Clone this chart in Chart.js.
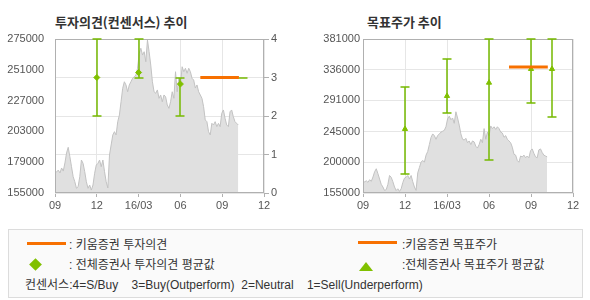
<!DOCTYPE html>
<html>
<head>
<meta charset="utf-8">
<script src="https://cdn.jsdelivr.net/npm/chart.js@4.4.1/dist/chart.umd.min.js"></script>
<style>
  body { margin: 0; background: #fff; width: 590px; height: 300px; position: relative; overflow: hidden;
         font-family: "Liberation Sans", "Noto Sans CJK KR", sans-serif; }
  .title { position: absolute; top: 12px; line-height: 17px; font: bold 13px "Noto Sans CJK KR", sans-serif; color: #333; }
  #c1 { position: absolute; left: 0; top: 0; }
  #c2 { position: absolute; left: 300px; top: 0; }
  .legend { position: absolute; left: 8px; top: 229px; width: 575px; height: 69px; box-sizing: border-box;
            border: 1px solid #dcdcdc; background: #fafafa; font-size: 12px; color: #333; }
  .legend div { position: absolute; }
  .txt { line-height: 14px; white-space: pre; font-family: "Liberation Sans", "Noto Sans CJK KR", sans-serif; }
  .oline { height: 3px; width: 39px; background: #f77000; }
  .dia { width: 9px; height: 9px; background: #80c000; transform: rotate(45deg); }
  .tri { width: 0; height: 0; border-left: 7px solid transparent; border-right: 7px solid transparent; border-bottom: 9px solid #80c000; }
</style>
</head>
<body>
<div class="title" style="left:55px">투자의견(컨센서스) 추이</div>
<div class="title" style="left:367px">목표주가 추이</div>
<canvas id="c1" width="300" height="215"></canvas>
<canvas id="c2" width="290" height="215"></canvas>
<div class="legend">
  <div class="oline" style="left:18px;top:12px"></div>
  <div class="txt" style="left:60px;top:8px">: 키움증권 투자의견</div>
  <div class="dia" style="left:22px;top:30px"></div>
  <div class="txt" style="left:60px;top:28px">: 전체증권사 투자의견 평균값</div>
  <div class="txt" style="left:16px;top:48px">컨센서스:4=S/Buy    3=Buy(Outperform)  2=Neutral    1=Sell(Underperform)</div>
  <div class="oline" style="left:349px;top:11px"></div>
  <div class="txt" style="left:393px;top:8px">:키움증권 목표주가</div>
  <div class="tri" style="left:350px;top:32px"></div>
  <div class="txt" style="left:393px;top:28px">:전체증권사 목표주가 평균값</div>
</div>
<script>
// x axis is in months from 2015-09
const xTickValues = [0, 3, 6, 9, 12, 15];
const xTickLabels = ['09', '12', '16/03', '06', '09', '12'];

// daily-ish closing price, sampled evenly from 2015-09
const priceStart = 0;
const priceStep = 0.1185;
const prices = [
  171600, 171400, 172900, 170600, 174500, 172100, 178400, 186200, 190600, 183300,
  175500, 167700, 163800, 158700, 159900, 167700, 180700, 178100, 171600, 163800,
  158700, 161200, 157300, 161200, 170400, 176800, 178100, 180700, 175500, 180700,
  171600, 163800, 158900, 184600, 192400, 200200, 202800, 200200, 210600, 215800,
  226100, 236600, 241700, 239200, 233900, 239200, 241700, 244400, 245600, 246900,
  252200, 263900, 267800, 262500, 265100, 257300, 274200, 265100, 254700, 241700,
  233900, 232700, 235300, 228800, 231400, 226100, 231400, 230000, 223600, 221000,
  226100, 233900, 228800, 249500, 233900, 244400, 239200, 253400, 249500, 252200,
  248300, 252200, 249500, 244400, 243000, 236800, 239200, 233900, 231400, 228800,
  222200, 211900, 210600, 202800, 200200, 209300, 208000, 210600, 206700, 209300,
  206700, 217100, 219700, 213200, 208000, 206700, 218300, 219700, 214500, 210600,
  209300, 208000
];

// left panel: consensus opinion (right axis 0-4)
const leftYTicks = [155000, 179000, 203000, 227000, 251000, 275000];
const opinionTicks = [0, 1, 2, 3, 4];
const opinionX = [3, 6, 9, 13.5];
const opinionLow = [2, 3, 2, 3];
const opinionHigh = [4, 4, 3, 3];
const opinionAvg = [3, 3.13, 2.83, null];
const kiwoomOpinion = 3;

// right panel: target price
const rightYTicks = [155000, 200000, 245000, 291000, 336000, 381000];
const targetX = [3, 6, 9, 12, 13.5];
const targetLow = [182400, 272000, 203000, 286600, 266100];
const targetHigh = [311000, 351200, 381000, 381000, 381000];
const targetAvg = [248900, 297400, 316900, 337000, 337000];
const kiwoomTarget = 340000;

const kiwoomFrom = 10.43, kiwoomTo = 13.2;

const priceXY = prices.map((p, i) => ({ x: priceStart + i * priceStep, y: p }));
const toXY = (xs, ys) => xs.map((x, i) => ({ x: x, y: ys[i] })).filter(d => d.y !== null);

const tickFont = { family: 'Liberation Sans', size: 11 };
const green = '#76b900';
const orange = '#f77000';
const plain = v => String(v);

// error bars, frame and front datasets drawn above the grid
const overlay = {
  id: 'overlay',
  beforeDatasetDraw(chart, args) {
    if (chart.data.datasets[args.index].front) return false;
  },
  afterDraw(chart, args, opts) {
    const { ctx, chartArea: a } = chart;
    const xs = chart.scales.x, ys = chart.scales[opts.axis];
    ctx.save();
    ctx.strokeStyle = '#b0b0b0';
    ctx.lineWidth = 1;
    ctx.strokeRect(a.left + 0.5, a.top + 0.5, a.width - 1, a.height - 1);

    ctx.strokeStyle = green;
    ctx.lineWidth = 1.5;
    opts.x.forEach((xv, i) => {
      const x = Math.round(xs.getPixelForValue(xv));
      const y1 = Math.round(ys.getPixelForValue(opts.low[i]));
      const y2 = Math.round(ys.getPixelForValue(opts.high[i]));
      ctx.beginPath();
      ctx.moveTo(x, y1); ctx.lineTo(x, y2);
      ctx.moveTo(x - 4.5, y1); ctx.lineTo(x + 4.5, y1);
      ctx.moveTo(x - 4.5, y2); ctx.lineTo(x + 4.5, y2);
      ctx.stroke();
    });

    chart.data.datasets.forEach((ds, i) => {
      if (!ds.front) return;
      const meta = chart.getDatasetMeta(i);
      if (ds.type === 'line') meta.dataset.draw(ctx, a);
      else meta.data.forEach(pt => pt.draw(ctx, a));
    });
    ctx.restore();
  }
};

function xScale() {
  return {
    type: 'linear', min: 0, max: 15,
    afterBuildTicks: s => { s.ticks = xTickValues.map(v => ({ value: v })); },
    ticks: {
      callback: v => xTickLabels[xTickValues.indexOf(v)] ?? '',
      autoSkip: false, maxRotation: 0, font: tickFont, color: '#555', padding: 2
    },
    grid: { color: '#e6e6e6', tickColor: '#b0b0b0', tickLength: 4 },
    border: { display: false },
    afterFit: s => { s.height = 22; }
  };
}

function priceSet() {
  return {
    type: 'line', data: priceXY, yAxisID: 'y',
    borderColor: '#c2c2c2', borderWidth: 1, backgroundColor: '#e0e0e0',
    fill: 'start', pointRadius: 0, tension: 0
  };
}

new Chart(document.getElementById('c1'), {
  data: {
    datasets: [
      priceSet(),
      { type: 'scatter', label: '전체증권사 투자의견 평균값', data: toXY(opinionX, opinionAvg), yAxisID: 'y1',
        pointStyle: 'rectRot', pointRadius: 3, backgroundColor: '#80c000', borderColor: '#80c000', front: true },
      { type: 'line', label: '키움증권 투자의견', yAxisID: 'y1',
        data: [{ x: kiwoomFrom, y: kiwoomOpinion }, { x: kiwoomTo, y: kiwoomOpinion }],
        borderColor: orange, borderWidth: 3, pointRadius: 0, front: true }
    ]
  },
  options: {
    responsive: false, animation: false,
    layout: { padding: { top: 39, right: 0, bottom: 0, left: 0 } },
    plugins: {
      legend: { display: false }, tooltip: { enabled: false },
      overlay: { axis: 'y1', x: opinionX, low: opinionLow, high: opinionHigh }
    },
    scales: {
      x: xScale(),
      y: {
        position: 'left', min: 155000, max: 275000,
        afterBuildTicks: s => { s.ticks = leftYTicks.map(v => ({ value: v })); },
        ticks: { font: tickFont, color: '#555', padding: 3, callback: plain },
        grid: { display: false }, border: { display: false },
        afterFit: s => { s.width = 55; }
      },
      y1: {
        position: 'right', min: 0, max: 4,
        afterBuildTicks: s => { s.ticks = opinionTicks.map(v => ({ value: v })); },
        ticks: { font: tickFont, color: '#555', padding: 2, callback: plain },
        grid: { color: '#e6e6e6', tickColor: '#b0b0b0', tickLength: 5 },
        border: { display: false },
        afterFit: s => { s.width = 36; }
      }
    }
  },
  plugins: [overlay]
});

new Chart(document.getElementById('c2'), {
  data: {
    datasets: [
      priceSet(),
      { type: 'scatter', label: '전체증권사 목표주가 평균값', data: toXY(targetX, targetAvg), yAxisID: 'y',
        pointStyle: 'triangle', pointRadius: 3, backgroundColor: '#80c000', borderColor: '#80c000', front: true },
      { type: 'line', label: '키움증권 목표주가', yAxisID: 'y',
        data: [{ x: kiwoomFrom, y: kiwoomTarget }, { x: kiwoomTo, y: kiwoomTarget }],
        borderColor: orange, borderWidth: 3, pointRadius: 0, front: true }
    ]
  },
  options: {
    responsive: false, animation: false,
    layout: { padding: { top: 39, right: 17, bottom: 0, left: 0 } },
    plugins: {
      legend: { display: false }, tooltip: { enabled: false },
      overlay: { axis: 'y', x: targetX, low: targetLow, high: targetHigh }
    },
    scales: {
      x: xScale(),
      y: {
        position: 'left', min: 155000, max: 381000,
        afterBuildTicks: s => { s.ticks = rightYTicks.map(v => ({ value: v })); },
        ticks: { font: tickFont, color: '#555', padding: 3, callback: plain },
        grid: { color: '#e6e6e6', drawTicks: false },
        border: { display: false },
        afterFit: s => { s.width = 63; }
      }
    }
  },
  plugins: [overlay]
});
</script>
</body>
</html>
